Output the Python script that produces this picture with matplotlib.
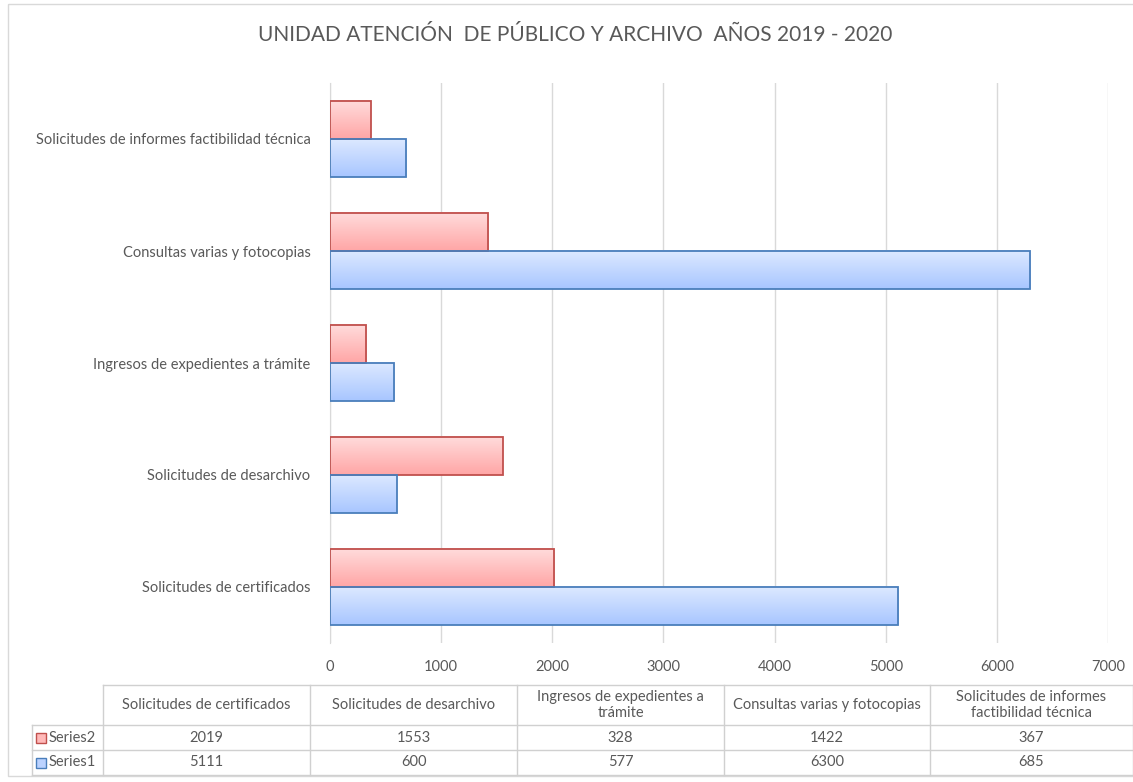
import numpy as np
import matplotlib
matplotlib.use("Agg")
import matplotlib.pyplot as plt
from matplotlib.colors import LinearSegmentedColormap
from matplotlib.patches import Rectangle

# data
categories = ["Solicitudes de certificados", "Solicitudes de desarchivo",
              "Ingresos de expedientes a trámite", "Consultas varias y fotocopias",
              "Solicitudes de informes factibilidad técnica"]
table_headers = ["Solicitudes de certificados", "Solicitudes de desarchivo",
                 "Ingresos de expedientes a\ntrámite", "Consultas varias y fotocopias",
                 "Solicitudes de informes\nfactibilidad técnica"]
series2 = [2019, 1553, 328, 1422, 367]
series1 = [5111, 600, 577, 6300, 685]
series_names = ["Series2", "Series1"]
xticks = [0, 1000, 2000, 3000, 4000, 5000, 6000, 7000]
title = "UNIDAD ATENCIÓN  DE PÚBLICO Y ARCHIVO  AÑOS 2019 - 2020"

plt.rcParams['font.family'] = ['Lato', 'DejaVu Sans']
txt = '#595959'
grid = '#D9D9D9'

W, H = 1133, 782
fig = plt.figure(figsize=(W / 100, H / 100), dpi=100)

# main plot area (pixel positions converted to figure fractions)
ax = fig.add_axes([330 / W, 1 - 643 / H, 778 / W, 560 / H])
y = np.arange(len(categories))
h = 0.34

red_cmap = LinearSegmentedColormap.from_list('r', ['#FFDCDC', '#FFA6A6'])
blue_cmap = LinearSegmentedColormap.from_list('b', ['#DDE9FF', '#A8C6FF'])
grad = np.linspace(0, 1, 64).reshape(-1, 1)

bars2 = ax.barh(y + h / 2, series2, height=h, facecolor='none', edgecolor='#C0504D', lw=1.3, zorder=3)
bars1 = ax.barh(y - h / 2, series1, height=h, facecolor='none', edgecolor='#4A7EBB', lw=1.3, zorder=3)
for bars, cmap in [(bars2, red_cmap), (bars1, blue_cmap)]:
    for p in bars:
        x0, y0 = p.get_x(), p.get_y()
        ax.imshow(grad, cmap=cmap, aspect='auto', zorder=2,
                  extent=(x0, x0 + p.get_width(), y0, y0 + p.get_height()), origin='upper')

ax.set_xlim(0, 7000)
ax.set_ylim(-0.5, len(categories) - 0.5)
ax.set_xticks(xticks)
ax.set_xticklabels([str(t) for t in xticks])
ax.set_yticks(y)
ax.set_yticklabels(categories)
ax.grid(axis='x', color=grid, lw=1, zorder=0)
ax.set_axisbelow(True)
for s in ['top', 'right', 'bottom']:
    ax.spines[s].set_visible(False)
ax.spines['left'].set_color(grid)
ax.tick_params(axis='y', length=0, pad=14, labelsize=10.5, labelcolor=txt)
ax.tick_params(axis='x', length=0, pad=12, labelsize=10.5, labelcolor=txt)

fig.text(575 / W, 1 - 35 / H, title, ha='center', va='center', fontsize=15, color=txt)

# data table below the chart, drawn in pixel coordinates
tab = fig.add_axes([0, 0, 1, 1], zorder=-1)
tab.set_xlim(0, W)
tab.set_ylim(H, 0)
tab.axis('off')
tab.patch.set_alpha(0)

# outer chart border
tab.add_patch(Rectangle((8, 4), W, H - 10, fill=False, ec='#D9D9D9', lw=1))

col_x = [103, 310, 517, 724, 930, 1133]
row_y = [685, 725, 750, 775]
lc = '#D0D0D0'
tab.plot([col_x[0], col_x[-1]], [row_y[0], row_y[0]], color=lc, lw=1)
for yy in row_y[1:]:
    tab.plot([32, col_x[-1]], [yy, yy], color=lc, lw=1)
for xx in col_x:
    tab.plot([xx, xx], [row_y[0], row_y[-1]], color=lc, lw=1)
tab.plot([32, 32], [row_y[1], row_y[-1]], color=lc, lw=1)

for j, head in enumerate(table_headers):
    cx = (col_x[j] + col_x[j + 1]) / 2
    tab.text(cx, (row_y[0] + row_y[1]) / 2, head, ha='center', va='center',
             fontsize=10.5, color=txt, linespacing=1.15)

rows = [(series2, '#FFB9B9', '#C0504D'), (series1, '#BBD2FF', '#4A7EBB')]
for i, (vals, fc, ec) in enumerate(rows):
    cy = (row_y[i + 1] + row_y[i + 2]) / 2
    tab.add_patch(Rectangle((36, cy - 5), 10, 10, fc=fc, ec=ec, lw=1))
    tab.text(49, cy, series_names[i], ha='left', va='center', fontsize=10.5, color=txt)
    for j, v in enumerate(vals):
        cx = (col_x[j] + col_x[j + 1]) / 2
        tab.text(cx, cy, str(v), ha='center', va='center', fontsize=10.5, color=txt)

fig.savefig('out.png', dpi=100)
